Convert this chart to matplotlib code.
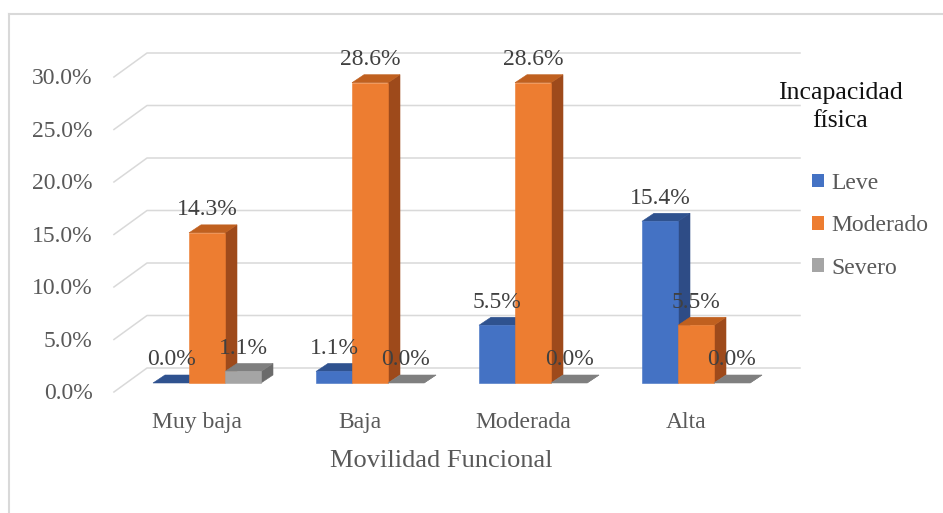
"""3D-style grouped columns: Movilidad Funcional vs Incapacidad fisica."""

import matplotlib.pyplot as plt
from matplotlib.patches import Polygon, Patch
from matplotlib.lines import Line2D

plt.rcParams['font.family'] = ['Liberation Serif', 'DejaVu Serif']

# data
categories = ["Muy baja", "Baja", "Moderada", "Alta"]
series = ["Leve", "Moderado", "Severo"]
leve = [0.0, 1.1, 5.5, 15.4]
moderado = [14.3, 28.6, 28.6, 5.5]
severo = [1.1, 0.0, 0.0, 0.0]
yticks = [0, 5, 10, 15, 20, 25, 30]

# colours: front, top, side
front_cols = ["#4472C4", "#ED7D31", "#A5A5A5"]
top_cols = ["#2F528F", "#C0601F", "#7F7F7F"]
side_cols = ["#2E4C86", "#9E4A1B", "#6B6B6B"]

# layout (pixel mapping of the picture)
W, H = 943, 513
PX0, PXU = 207, 163     # px of first category centre, px per category
PY0, PYU = 383, 10.5    # px of 0 %, px per percent
bar_w = 36 / PXU
dep_x, dep_y = 12 / PXU, 8 / PYU          # bar depth
back_x, back_dy = -0.368, 15 / PYU        # back wall
front_x, front_dy = -0.571, -9 / PYU      # front edge of side wall
grid_end = (800 - PX0) / PXU

fig = plt.figure(figsize=(W / 100, H / 100), dpi=100)
ax = fig.add_axes([0, 0, 1, 1])
ax.set_xlim(-PX0 / PXU, (W - PX0) / PXU)
ax.set_ylim((PY0 - H) / PYU, PY0 / PYU)
ax.axis("off")

# gridlines (side wall + back wall)
for t in yticks:
    ax.plot([front_x, back_x, grid_end],
            [t + front_dy, t + back_dy, t + back_dy],
            color="#D9D9D9", lw=1.1, zorder=1)
    ax.text(front_x - 0.13, t + front_dy - 0.15, f"{t:.1f}%", ha="right", va="center",
            fontsize=17, color="#595959")

# bars
values = [leve, moderado, severo]
for i in range(len(categories)):
    for j in range(len(series)):
        v = values[j][i]
        x0 = i + (j - 1.5) * bar_w
        x1 = x0 + bar_w
        side = [(x1, 0), (x1 + dep_x, dep_y), (x1 + dep_x, v + dep_y), (x1, v)]
        top = [(x0, v), (x1, v), (x1 + dep_x, v + dep_y), (x0 + dep_x, v + dep_y)]
        ax.add_patch(Polygon(side, closed=True, fc=side_cols[j], ec=side_cols[j], lw=0.4, zorder=2))
        ax.add_patch(Polygon(top, closed=True, fc=top_cols[j], ec=top_cols[j], lw=0.4, zorder=2))
        if v > 0:
            ax.add_patch(plt.Rectangle((x0, 0), bar_w, v, fc=front_cols[j],
                                       ec=front_cols[j], lw=0.4, zorder=2))
        ax.text(x0 + bar_w / 2, v + 2.2, f"{v:.1f}%", ha="center", va="center",
                fontsize=17, color="#404040", zorder=3)

# category labels and axis title
for i, c in enumerate(categories):
    ax.text(i - 0.06, -3.8, c, ha="center", va="center", fontsize=17, color="#595959")
ax.text(1.436, -7.4, "Movilidad Funcional", ha="center", va="center",
        fontsize=19, color="#595959")

# legend
handles = [Patch(fc=front_cols[k], ec="none") for k in range(len(series))]
ax.legend(handles, series, loc="upper left",
          bbox_to_anchor=(812 / W, 1 - 173 / H), bbox_transform=fig.transFigure,
          frameon=False, fontsize=17, labelcolor="#595959",
          handlelength=0.5, handleheight=0.5, handletextpad=0.3,
          labelspacing=0.9, borderpad=0, borderaxespad=0)
fig.text(840 / W, 1 - 107 / H, "Incapacidad\nfísica", ha="center", va="center",
         fontsize=18.5, color="#111111", linespacing=1.4)

# chart border (top and left)
fig.add_artist(Line2D([9 / W, 9 / W], [0, 1 - 14 / H], color="#D9D9D9", lw=1.5,
                      transform=fig.transFigure))
fig.add_artist(Line2D([9 / W, 1], [1 - 14 / H, 1 - 14 / H], color="#D9D9D9", lw=1.5,
                      transform=fig.transFigure))

fig.savefig("out.png", dpi=100)
